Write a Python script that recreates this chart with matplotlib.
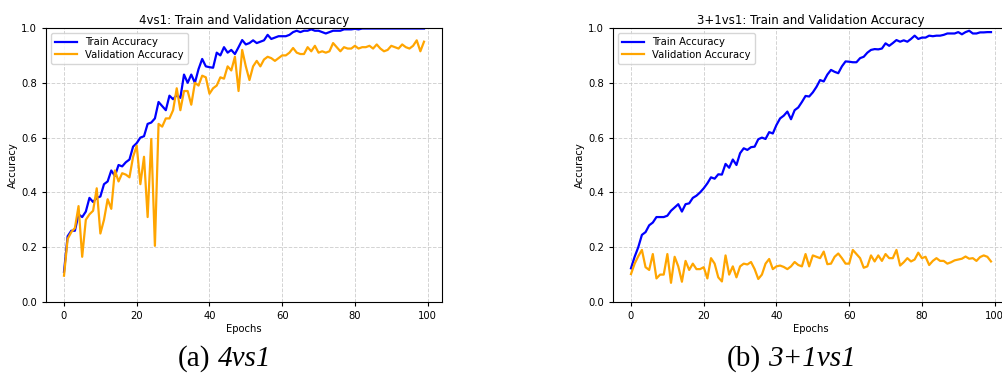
import matplotlib
matplotlib.use("Agg")
import matplotlib.pyplot as plt
import numpy as np

epochs = np.arange(100)

# 4vs1
train_4vs1 = [0.11, 0.24, 0.26, 0.26, 0.32, 0.31, 0.33, 0.38, 0.365, 0.38,
              0.385, 0.43, 0.44, 0.48, 0.46, 0.50, 0.495, 0.51, 0.52, 0.567,
              0.58, 0.60, 0.605, 0.65, 0.655, 0.67, 0.73, 0.715, 0.70, 0.753,
              0.74, 0.755, 0.745, 0.83, 0.80, 0.83, 0.80, 0.85, 0.887, 0.86,
              0.857, 0.855, 0.91, 0.90, 0.93, 0.91, 0.92, 0.905, 0.93, 0.956,
              0.94, 0.945, 0.955, 0.945, 0.95, 0.955, 0.975, 0.96, 0.965, 0.97,
              0.97, 0.97, 0.975, 0.985, 0.99, 0.985, 0.99, 0.99, 0.995, 0.99,
              0.99, 0.985, 0.98, 0.985, 0.99, 0.99, 0.99, 0.995, 0.995, 0.995,
              0.997, 0.995, 0.998, 0.998, 0.998, 0.998, 0.998, 0.998, 0.998, 0.998,
              0.998, 0.998, 0.998, 0.998, 0.998, 0.998, 0.998, 0.998, 0.998, 0.998]
val_4vs1 = [0.096, 0.23, 0.255, 0.27, 0.35, 0.165, 0.30, 0.32, 0.333, 0.415,
            0.25, 0.30, 0.375, 0.34, 0.48, 0.44, 0.47, 0.465, 0.455, 0.53,
            0.57, 0.43, 0.53, 0.31, 0.595, 0.205, 0.65, 0.64, 0.67, 0.67,
            0.70, 0.78, 0.70, 0.77, 0.77, 0.72, 0.80, 0.79, 0.826, 0.82,
            0.76, 0.78, 0.79, 0.82, 0.815, 0.86, 0.845, 0.895, 0.77, 0.92,
            0.86, 0.81, 0.86, 0.88, 0.86, 0.885, 0.895, 0.89, 0.88, 0.89,
            0.90, 0.90, 0.91, 0.927, 0.91, 0.905, 0.905, 0.93, 0.915, 0.935,
            0.91, 0.915, 0.91, 0.915, 0.945, 0.93, 0.915, 0.93, 0.925, 0.925,
            0.935, 0.925, 0.93, 0.93, 0.935, 0.925, 0.94, 0.925, 0.915, 0.92,
            0.935, 0.93, 0.925, 0.94, 0.93, 0.925, 0.935, 0.955, 0.915, 0.95]

# 3+1vs1
train_31vs1 = [0.123, 0.165, 0.20, 0.245, 0.255, 0.28, 0.29, 0.31, 0.31, 0.31,
               0.315, 0.333, 0.345, 0.357, 0.33, 0.357, 0.36, 0.38, 0.388, 0.40,
               0.415, 0.433, 0.455, 0.45, 0.466, 0.465, 0.504, 0.49, 0.52, 0.50,
               0.543, 0.561, 0.555, 0.565, 0.567, 0.594, 0.60, 0.595, 0.62, 0.615,
               0.646, 0.67, 0.68, 0.695, 0.667, 0.70, 0.71, 0.73, 0.752, 0.75,
               0.765, 0.785, 0.81, 0.805, 0.83, 0.847, 0.84, 0.835, 0.86, 0.878,
               0.877, 0.875, 0.875, 0.89, 0.895, 0.91, 0.92, 0.923, 0.922, 0.925,
               0.944, 0.935, 0.945, 0.956, 0.95, 0.955, 0.95, 0.96, 0.972, 0.96,
               0.965, 0.965, 0.972, 0.97, 0.972, 0.972, 0.975, 0.98, 0.98, 0.98,
               0.985, 0.977, 0.985, 0.99, 0.98, 0.98, 0.984, 0.984, 0.985, 0.985]
val_31vs1 = [0.102, 0.14, 0.167, 0.19, 0.127, 0.117, 0.175, 0.086, 0.10, 0.10,
             0.175, 0.07, 0.165, 0.13, 0.074, 0.15, 0.117, 0.14, 0.12, 0.12,
             0.127, 0.086, 0.16, 0.14, 0.09, 0.075, 0.17, 0.10, 0.13, 0.09,
             0.13, 0.14, 0.137, 0.146, 0.12, 0.084, 0.10, 0.14, 0.157, 0.12,
             0.13, 0.133, 0.128, 0.12, 0.13, 0.146, 0.135, 0.13, 0.175, 0.13,
             0.17, 0.165, 0.16, 0.184, 0.138, 0.14, 0.165, 0.177, 0.16, 0.14,
             0.14, 0.19, 0.175, 0.16, 0.125, 0.13, 0.17, 0.148, 0.17, 0.15,
             0.175, 0.16, 0.16, 0.19, 0.133, 0.145, 0.16, 0.148, 0.155, 0.18,
             0.16, 0.165, 0.135, 0.15, 0.16, 0.15, 0.15, 0.14, 0.145, 0.152,
             0.155, 0.158, 0.166, 0.158, 0.16, 0.15, 0.164, 0.17, 0.165, 0.148]

W, H = 1003, 390
fig = plt.figure(figsize=(W / 100, H / 100), dpi=100)

panels = [
    (46, "4vs1: Train and Validation Accuracy", train_4vs1, val_4vs1),
    (613, "3+1vs1: Train and Validation Accuracy", train_31vs1, val_31vs1),
]

for left, title, tr, va in panels:
    ax = fig.add_axes([left / W, 88 / H, 396 / W, 274 / H])
    ax.plot(epochs, tr, color="blue", lw=1.6, label="Train Accuracy")
    ax.plot(epochs, va, color="orange", lw=1.6, label="Validation Accuracy")
    ax.set_ylim(0, 1.0)
    ax.set_xticks([0, 20, 40, 60, 80, 100])
    ax.set_yticks([0.0, 0.2, 0.4, 0.6, 0.8, 1.0])
    ax.grid(True, linestyle="--", color="#c8c8c8", alpha=0.8, lw=0.7)
    ax.tick_params(labelsize=7.2, length=3)
    ax.set_title(title, fontsize=8.5, pad=3)
    ax.set_xlabel("Epochs", fontsize=7.2, labelpad=2)
    ax.set_ylabel("Accuracy", fontsize=7.2, labelpad=2)
    ax.legend(loc="upper left", fontsize=7.2, handlelength=2.2,
              borderpad=0.4, labelspacing=0.25)

# captions below panels
serif = "Liberation Serif"
for x0, tag, name in [(178, "(a)", "4vs1"), (727, "(b)", "3+1vs1")]:
    t1 = fig.text(x0 / W, 1 - 366 / H, tag, fontsize=21, family=serif,
                  ha="left", va="baseline")
    fig.axes[0].annotate(name, xy=(1, 0), xycoords=t1, xytext=(5, 0),
                         textcoords="offset points", fontsize=21,
                         family=serif, style="italic", ha="left",
                         va="bottom", annotation_clip=False)

fig.savefig("out.png", dpi=100)
